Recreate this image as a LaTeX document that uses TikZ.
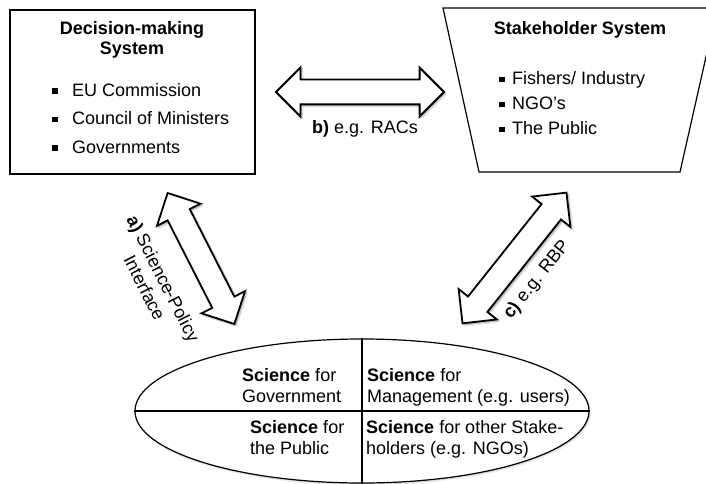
\documentclass[tikz,border=0pt]{standalone}
\usepackage{fontspec}
\setmainfont{Liberation Sans}
\usepackage{tikz}
\usetikzlibrary{shapes.geometric,shapes.arrows,shadows.blur,positioning}

\newcommand{\sqbul}{\raisebox{2.5pt}{\rule{5.5pt}{5.5pt}}}
\newcommand{\dmitem}{\makebox[20pt][l]{\sqbul}}
\newcommand{\shitem}{\makebox[13pt][l]{\sqbul}}

\tikzset{
  txt/.style={inner sep=0pt, font=\fontsize{18}{21}\selectfont},
  sysbox/.style={draw, line width=1.2pt, inner sep=0pt},
  dblarrow/.style={double arrow, draw, line width=1.8pt, fill=white,
    inner xsep=0pt, inner ysep=11.5pt, double arrow head extend=12pt,
    blur shadow={shadow xshift=1.5pt, shadow yshift=-1.5pt, shadow blur steps=6}},
}

\begin{document}
\begin{tikzpicture}[x=1pt,y=-1pt]
\useasboundingbox (0,0) rectangle (706,484);
\clip (0,0) rectangle (706,484);

% decision-making system
\node[sysbox, minimum width=245pt, minimum height=164pt] (dm) at (132.5,92) {};
\node[txt, align=center, font=\fontsize{18}{20}\selectfont\bfseries] (dmtitle) at (132,40) {Decision-making\\System};
\node[txt, align=left, anchor=west, font=\fontsize{18}{28.5}\selectfont] (dmlist) at (52,118.5)
  {\dmitem EU Commission\\ \dmitem Council of Ministers\\ \dmitem Governments};

% stakeholder system
\draw[sysbox] (443,8) -- (717,8) -- (680,172) -- (479,172) -- cycle;
\node[txt, anchor=base, font=\fontsize{18}{21}\selectfont\bfseries] (shtitle) at (580,34.5) {Stakeholder System};
\node[txt, align=left, anchor=west, font=\fontsize{18}{25}\selectfont] (shlist) at (499,103.5)
  {\shitem Fishers/ Industry\\ \shitem NGO’s\\ \shitem The Public};

% interfaces
\node[dblarrow, minimum height=168pt] (arrb) at (360,92) {};
\node[txt, anchor=base] (lblb) at (365,133.5) {\textbf{b)} e.g. RACs};
\node[dblarrow, minimum height=147pt, rotate=-63] (arra) at (201,258.5) {};
\node[txt, align=center, rotate=-63] (lbla) at (154,283) {\textbf{a)} Science-Policy\\Interface};
\node[dblarrow, minimum height=167pt, rotate=51.5] (arrc) at (514.5,258) {};
\node[txt, rotate=51.5] (lblc) at (537,280) {\textbf{c)} e.g. RBP};

% science
\node[ellipse, draw, fill=white, line width=1.2pt, minimum width=454pt, minimum height=144pt, inner sep=0pt,
  blur shadow={shadow xshift=1pt, shadow yshift=-1pt, shadow blur steps=4, shadow opacity=25}] (sci) at (362,411) {};
\draw[line width=1.2pt] (sci.west) -- (sci.east);
\draw[line width=1.2pt] (sci.north) -- (sci.south);
\node[txt, align=left, anchor=west] (scigov) at (242,385.5) {\textbf{Science} for\\Government};
\node[txt, align=left, anchor=west] (scimgmt) at (367,387) {\textbf{Science} for\\Management (e.g. users)};
\node[txt, align=left, anchor=west] (scipub) at (250,437.5) {\textbf{Science} for\\the Public};
\node[txt, align=left, anchor=west] (scioth) at (366,439.4) {\textbf{Science} for other Stake-\\holders (e.g. NGOs)};
\end{tikzpicture}
\end{document}
